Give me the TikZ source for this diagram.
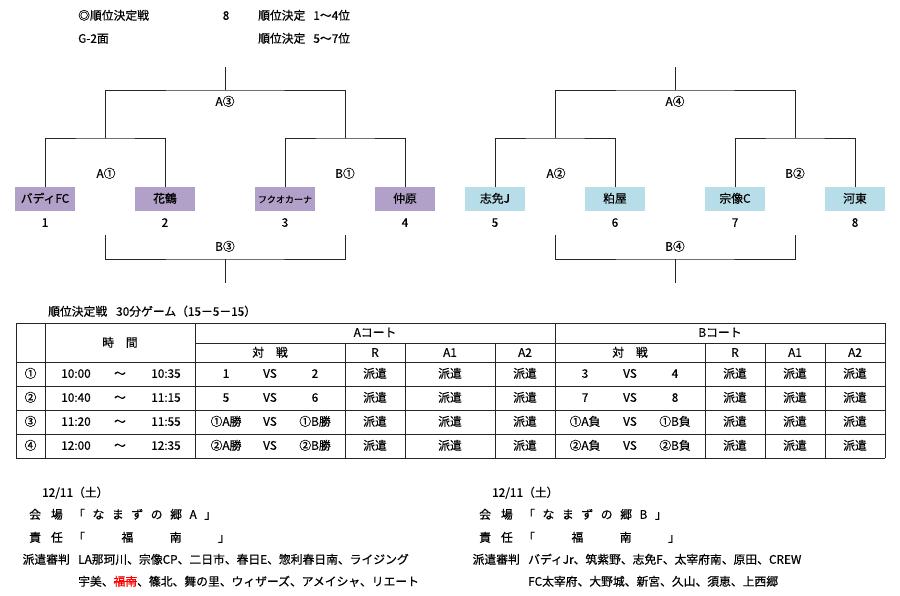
\documentclass[tikz,border=0pt]{standalone}
\usepackage{fontspec}
\setmainfont{Noto Sans CJK JP}[FakeBold=0.5]
\definecolor{boxP}{HTML}{B1A0C7}
\definecolor{boxB}{HTML}{B7DEE8}
\definecolor{lineC}{HTML}{262626}
\newcommand\gq{\hspace{7.6pt}}
\newcommand\gw{\hspace{36.5pt}}
\newcommand\redstrike[1]{\textcolor{red}{\rlap{\rule[0.33em]{2em}{0.6pt}}#1}}
\begin{document}
\begin{tikzpicture}[x=1pt,y=-1pt,
  every node/.style={font=\fontsize{11.8}{13}\selectfont, inner sep=0pt, text height=0.88em, text depth=0.12em},
  lt/.style={anchor=west},
  rt/.style={anchor=east},
  br/.style={draw=lineC, line width=0.9pt},
  tbl/.style={draw=lineC, line width=1pt},
  pbox/.style={fill=boxP, minimum width=60pt, minimum height=24pt},
  bbox/.style={fill=boxB, minimum width=60pt, minimum height=24pt},
  small/.style={font=\fontsize{9}{11}\selectfont}]
\useasboundingbox (0,0) rectangle (900,596);
\fill[white] (0,0) rectangle (900,596);

% header
\node[lt] (h1) at (78,16) {◎順位決定戦};
\node (h2) at (226,16) {8};
\node[lt] (h3) at (258,16) {順位決定\hspace{8pt}1～4位};
\node[lt] (h4) at (78,39) {G-2面};
\node[lt] (h5) at (258,39) {順位決定\hspace{8pt}5～7位};

% boxes
\node[pbox] (t1) at (45,199) {バディFC};
\node[pbox] (t2) at (165,199) {花鶴};
\node[pbox,small] (t3) at (285,199) {フクオカーナ};
\node[pbox] (t4) at (405,199) {仲原};
\node[bbox] (t5) at (495,199) {志免J};
\node[bbox] (t6) at (615,199) {粕屋};
\node[bbox] (t7) at (735,199) {宗像C};
\node[bbox] (t8) at (855,199) {河東};
\foreach \x/\n in {45/1,165/2,285/3,405/4,495/5,615/6,735/7,855/8}
  \node (num\n) at (\x,223) {\n};

% left bracket
\coordinate (jA1) at (105,138);
\coordinate (jB1) at (345,138);
\coordinate (jA3) at (225,90);
\coordinate (topL) at (225,67);
\coordinate (bL) at (105,235);
\coordinate (bR) at (345,235);
\coordinate (jB3) at (225,259);
\coordinate (botL) at (225,283);
\draw[br] (t1.north) |- (jA1) -| (t2.north);
\draw[br] (t3.north) |- (jB1) -| (t4.north);
\draw[br] (jA1) |- (jA3) -| (jB1);
\draw[br] (jA3) -- (topL);
\draw[br] (bL) |- (jB3) -| (bR);
\draw[br] (jB3) -- (botL);
\node (lA1) at (106,174) {A①};
\node (lB1) at (345,174) {B①};
\node (lA3) at (225,102) {A③};
\node (lB3) at (225,247) {B③};

% right bracket
\coordinate (jA2) at (555,138);
\coordinate (jB2) at (795,138);
\coordinate (jA4) at (675,90);
\coordinate (topR) at (675,67);
\coordinate (bL2) at (555,235);
\coordinate (bR2) at (795,235);
\coordinate (jB4) at (675,259);
\coordinate (botR) at (675,283);
\draw[br] (t5.north) |- (jA2) -| (t6.north);
\draw[br] (t7.north) |- (jB2) -| (t8.north);
\draw[br] (jA2) |- (jA4) -| (jB2);
\draw[br] (jA4) -- (topR);
\draw[br] (bL2) |- (jB4) -| (bR2);
\draw[br] (jB4) -- (botR);
\node (lA2) at (556,174) {A②};
\node (lB2) at (795,174) {B②};
\node (lA4) at (675,102) {A④};
\node (lB4) at (675,247) {B④};

% table
\node[lt] (ttl) at (48,312) {順位決定戦\hspace{9pt}30分ゲーム（15－5－15）};
\foreach \x in {16,45,195,555,885} \draw[tbl] (\x,323) -- (\x,458);
\foreach \x in {345,405,495,705,765,825} \draw[tbl] (\x,343) -- (\x,458);
\foreach \y in {323,362,386,410,434,458} \draw[tbl] (16,\y) -- (885,\y);
\draw[tbl] (195,343) -- (885,343);
\node (hT) at (120,343) {時　間};
\node (hA) at (375,333) {Aコート};
\node (hB) at (720,333) {Bコート};
\foreach \c in {270,630} \node (hv\c) at (\c,353) {対　戦};
\foreach \c in {375,735} \node (hr\c) at (\c,353) {R};
\foreach \c in {450,795} \node (ha\c) at (\c,353) {A1};
\foreach \c in {525,855} \node (hb\c) at (\c,353) {A2};
\foreach \y/\n/\ta/\tb/\la/\lb/\ra/\rb [count=\i] in
  {374/①/10:00/10:35/1/2/3/4,
   398/②/10:40/11:15/5/6/7/8,
   422/③/11:20/11:55/①A勝/①B勝/①A負/①B負,
   446/④/12:00/12:35/②A勝/②B勝/②A負/②B負}{
  \node (rn\i) at (30.5,\y) {\n};
  \node (ts\i) at (76,\y) {\ta};
  \node (tw\i) at (120,\y) {～};
  \node (te\i) at (166,\y) {\tb};
  \node (al\i) at (226,\y) {\la};
  \node (av\i) at (270,\y) {VS};
  \node (ar\i) at (315,\y) {\lb};
  \node (bl\i) at (585,\y) {\ra};
  \node (bv\i) at (630,\y) {VS};
  \node (bx\i) at (675,\y) {\rb};
  \foreach \c in {375,450,525,735,795,855}
    \node (d\i-\c) at (\c,\y) {派遣};
}

% bottom left
\node[lt] (dL) at (42,493) {12/11（土）};
\node (kL) at (46,515) {会\hspace{10pt}場};
\node[lt] (vL) at (73,515) {「\gq な\gq ま\gq ず\gq の\gq 郷\gq A\gq 」};
\node (sL) at (46,538) {責\hspace{10pt}任};
\node[lt] (wL) at (73,538) {「\gw 福\gw 南\gw 」};
\node[rt] (pL) at (70,560) {派遣審判};
\node[lt] (p1L) at (78,560) {LA那珂川、宗像CP、二日市、春日E、惣利春日南、ライジング};
\node[lt] (p2L) at (78,582) {宇美、\redstrike{福南}、篠北、舞の里、ウィザーズ、アメイシャ、リエート};

% bottom right
\node[lt] (dR) at (492,493) {12/11（土）};
\node (kR) at (496,515) {会\hspace{10pt}場};
\node[lt] (vR) at (523,515) {「\gq な\gq ま\gq ず\gq の\gq 郷\gq B\gq 」};
\node (sR) at (496,538) {責\hspace{10pt}任};
\node[lt] (wR) at (523,538) {「\gw 福\gw 南\gw 」};
\node[rt] (pR) at (520,560) {派遣審判};
\node[lt] (p1R) at (528,560) {バディJr、筑紫野、志免F、太宰府南、原田、CREW};
\node[lt] (p2R) at (528,582) {FC太宰府、大野城、新宮、久山、須恵、上西郷};
\end{tikzpicture}
\end{document}
